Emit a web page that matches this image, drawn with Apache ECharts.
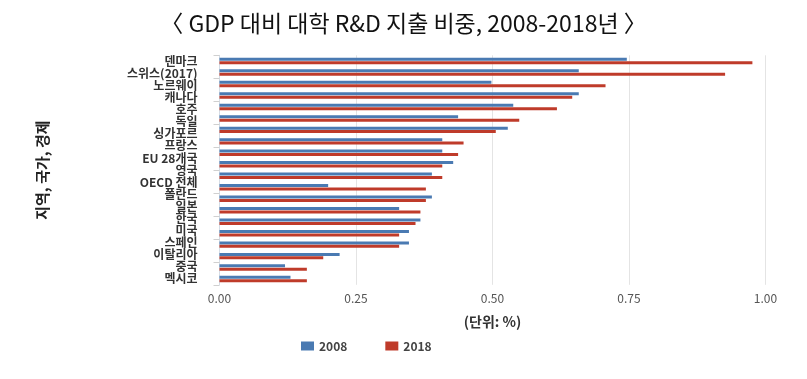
<!DOCTYPE html>
<html>
<head>
<meta charset="utf-8">
<script src="https://cdn.jsdelivr.net/npm/echarts@6/dist/echarts.min.js"></script>
<style>
html,body{margin:0;padding:0;background:#fff;}
#c{width:807px;height:379px;}
</style>
</head>
<body>
<div id="c"></div>
<script>
// Label texts as printed on the reference (19 labels)
const categories = ['덴마크','스위스(2017)','노르웨이','캐나다','호주','독일','싱가포르','프랑스','EU 28개국','영국','OECD 전체','폴란드','일본','한국','미국','스페인','이탈리아','중국','멕시코'];
// Bar rows drawn in the reference (20 bar pairs)
const barRows = ['r1','r2','r3','r4','r5','r6','r7','r8','r9','r10','r11','r12','r13','r14','r15','r16','r17','r18','r19','r20'];
const values2008 = [0.746,0.658,0.498,0.658,0.538,0.437,0.528,0.408,0.408,0.428,0.389,0.199,0.389,0.329,0.368,0.347,0.347,0.220,0.120,0.130];
const values2018 = [0.976,0.926,0.707,0.646,0.618,0.549,0.506,0.447,0.437,0.408,0.408,0.378,0.378,0.368,0.359,0.329,0.329,0.190,0.160,0.160];
const xTicks = [0, 0.25, 0.5, 0.75, 1.0];

const FONT = "'Noto Sans CJK KR', 'Noto Sans', sans-serif";
const chart = echarts.init(document.getElementById('c'), null, {renderer:'canvas'});
chart.setOption({
  animation:false,
  backgroundColor:'#ffffff',
  title:{
    text:'〈 GDP 대비 대학 R&D 지출 비중, 2008-2018년 〉',
    left:'center', top:7,
    textStyle:{fontFamily:FONT, fontSize:23, fontWeight:'normal', color:'#111'}
  },
  legend:{
    bottom:22, left:296, itemWidth:13, itemHeight:9, itemGap:38,
    icon:'rect',
    textStyle:{fontFamily:FONT, fontSize:12, fontWeight:'bold', color:'#444'},
    data:['2008','2018']
  },
  grid:{left:219.5, right:41.5, top:55.3, bottom:94.2, containLabel:false},
  xAxis:{
    type:'value', min:xTicks[0], max:xTicks[xTicks.length-1], interval:0.25,
    name:'(단위: %)', nameLocation:'middle', nameGap:30,
    nameTextStyle:{fontFamily:FONT, fontSize:14, fontWeight:'bold', color:'#333'},
    axisLine:{show:false}, axisTick:{show:false},
    axisLabel:{fontFamily:FONT, fontSize:12, color:'#555', margin:8,
      formatter:v=>v.toFixed(2)},
    splitLine:{show:true, lineStyle:{color:'#e4e4e4', width:1}}
  },
  yAxis:[
    {
      type:'category', data:barRows, inverse:true, position:'left', offset:0,
      axisLine:{show:true, lineStyle:{color:'#d5dde6', width:1}},
      axisTick:{show:true, length:6, lineStyle:{color:'#d0d0d0'}},
      axisLabel:{show:false},
      splitLine:{show:false}
    },
    {
      type:'category', data:categories, inverse:true, position:'left', offset:0,
      name:'지역, 국가, 경제', nameLocation:'middle', nameGap:170, nameRotate:90,
      nameTextStyle:{fontFamily:FONT, fontSize:15, fontWeight:'bold', color:'#222'},
      axisLine:{show:false}, axisTick:{show:false},
      axisLabel:{interval:0, fontFamily:FONT, fontSize:12, fontWeight:'bold', color:'#333', margin:22, lineHeight:12},
      splitLine:{show:false}
    }
  ],
  series:[
    {name:'2008', type:'bar', yAxisIndex:0, data:values2008, barWidth:3, barGap:'15%',
      itemStyle:{color:'#4A7AB2'}},
    {name:'2018', type:'bar', yAxisIndex:0, data:values2018, barWidth:3, barGap:'15%',
      itemStyle:{color:'#BF3B2A'}}
  ]
});
</script>
</body>
</html>
